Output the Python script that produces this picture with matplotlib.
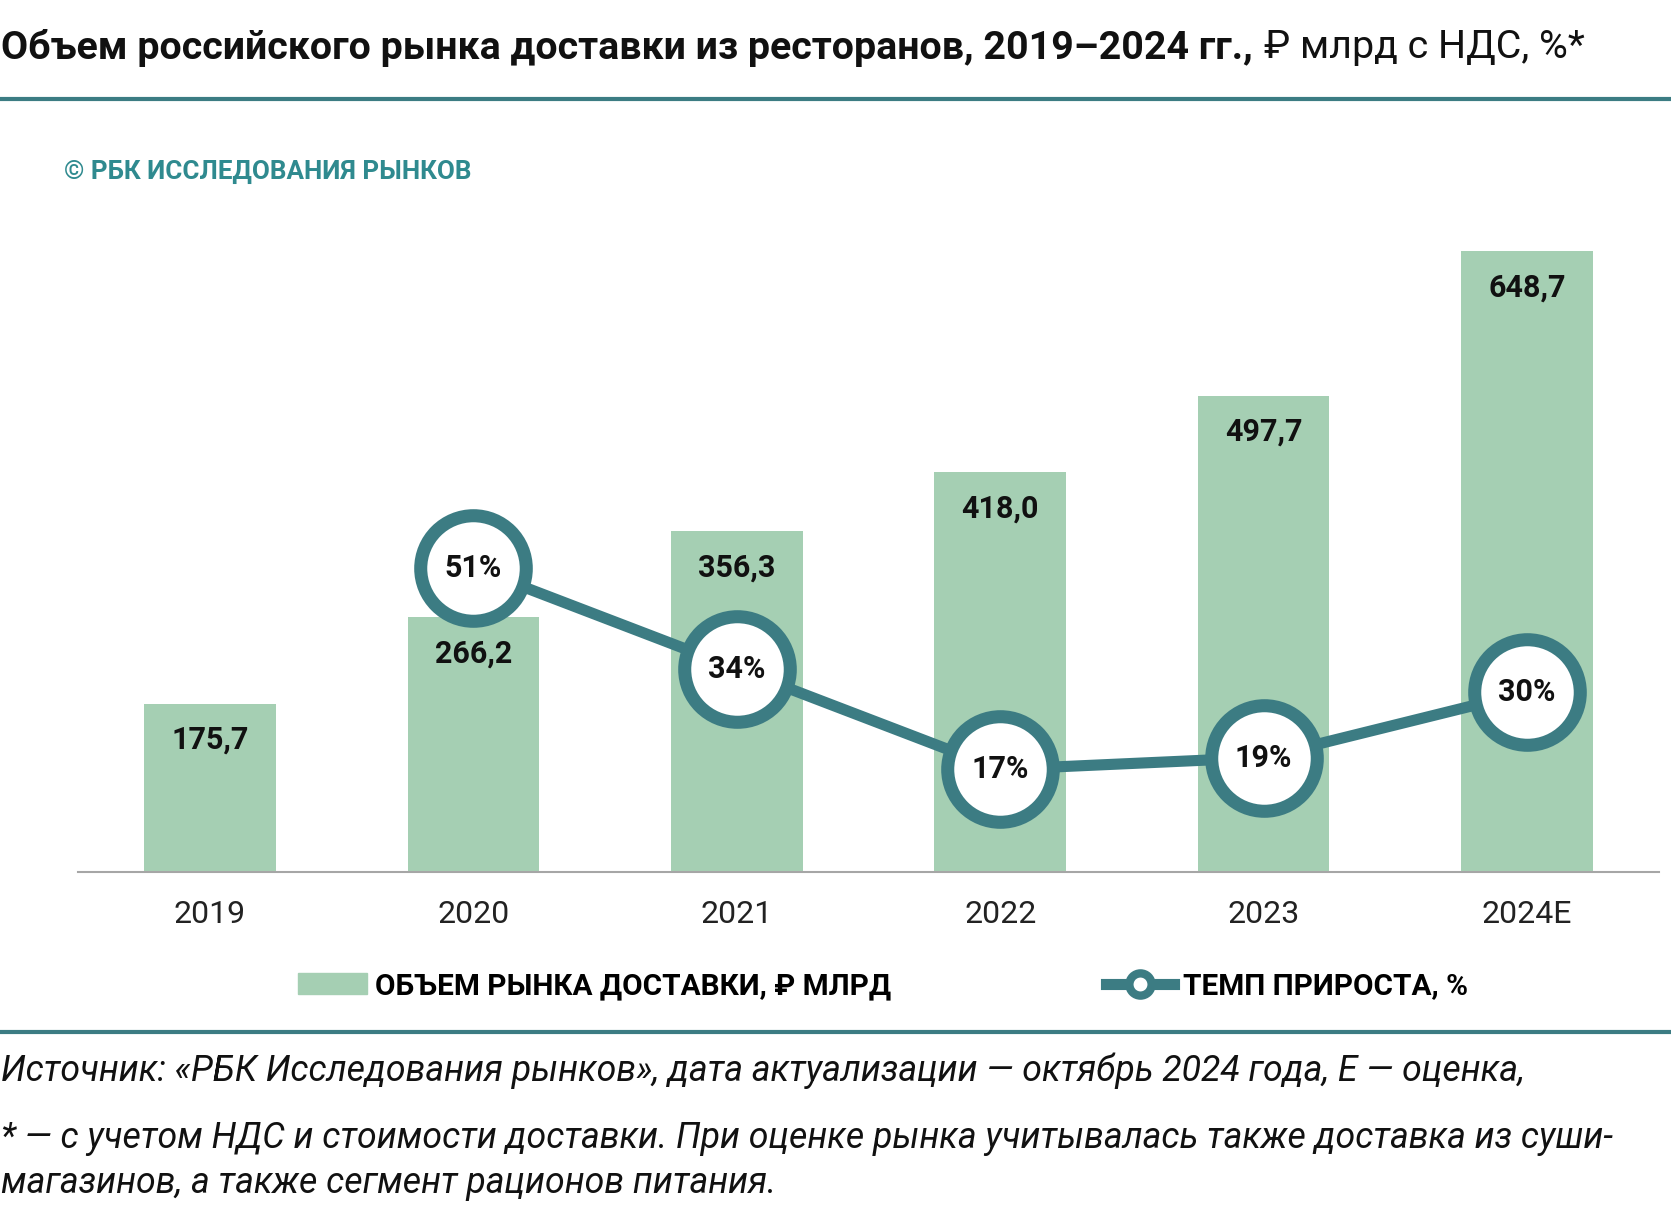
import matplotlib
matplotlib.use("Agg")
import matplotlib.pyplot as plt
from matplotlib.lines import Line2D
from matplotlib.patches import Patch

plt.rcParams['font.family'] = ['Roboto', 'DejaVu Sans']

years = ['2019', '2020', '2021', '2022', '2023', '2024E']
market = [175.7, 266.2, 356.3, 418.0, 497.7, 648.7]
growth_years = [1, 2, 3, 4, 5]
growth = [51, 34, 17, 19, 30]

title_bold = 'Объем российского рынка доставки из ресторанов, 2019–2024 гг.,'
title_reg = '₽ млрд с НДС, %*'
watermark = '© РБК ИССЛЕДОВАНИЯ РЫНКОВ'
legend_labels = ['ОБЪЕМ РЫНКА ДОСТАВКИ, ₽ МЛРД', 'ТЕМП ПРИРОСТА, %']
footer = ['Источник: «РБК Исследования рынков», дата актуализации — октябрь 2024 года, Е — оценка,',
          '* — с учетом НДС и стоимости доставки. При оценке рынка учитывалась также доставка из суши-',
          'магазинов, а также сегмент рационов питания.']

bar_color = '#A5CFB3'
teal = '#3C7C83'
W, H = 1671, 1212

fig = plt.figure(figsize=(W / 100, H / 100), dpi=100)
fig.patch.set_facecolor('white')
renderer = fig.canvas.get_renderer()


def fit(t, target_px):
    bb = t.get_window_extent(renderer)
    t.set_fontsize(t.get_fontsize() * target_px / bb.width)


# title
t1 = fig.text(1 / W, 1 - 48 / H, title_bold, fontsize=26, fontweight='bold',
              va='center', ha='left', color='#111111')
fit(t1, 1254)
bb = t1.get_window_extent(renderer)
fig.text((bb.x1 + 11) / W, 1 - 48 / H, title_reg, fontsize=t1.get_fontsize(),
         va='center', ha='left', color='#111111')

for y in [99, 1032]:
    fig.add_artist(Line2D([0, 1], [1 - y / H, 1 - y / H], transform=fig.transFigure,
                          color=teal, lw=3))

fig.text(64 / W, 1 - 172 / H, watermark, fontsize=18.7, fontweight='bold',
         color='#2F8A8F', va='center', ha='left')

# chart
ax = fig.add_axes([78.3 / W, 1 - 872 / H, 6 * 263.4 / W, 672 / H])
x = list(range(len(years)))
ax.bar(x, market, width=0.5, color=bar_color, zorder=2)
ax.set_xlim(-0.5, 5.5)
ax.set_ylim(0, 702.5)
for s in ['top', 'left', 'right']:
    ax.spines[s].set_visible(False)
ax.spines['bottom'].set_color('#A6A6A6')
ax.spines['bottom'].set_linewidth(1.5)
ax.set_yticks([])
ax.set_xticks(x, years)
ax.tick_params(axis='x', length=0, pad=20, labelsize=23, labelcolor='#222222')

for i, v in enumerate(market):
    ax.annotate(f'{v:.1f}'.replace('.', ','), xy=(i, v), xytext=(0, -26),
                textcoords='offset points', ha='center', va='center',
                fontsize=22, fontweight='bold', color='#111111')

ax2 = ax.twinx()
ax2.set_ylim(-0.3, 113.0)
ax2.axis('off')
ax2.plot(growth_years, growth, '-o', color=teal, lw=8, ms=76, mfc='white',
         mec=teal, mew=9.4, zorder=3)
for i, v in zip(growth_years, growth):
    ax2.text(i, v, f'{v}%', ha='center', va='center', fontsize=22,
             fontweight='bold', color='#111111', zorder=4)

handles = [Patch(color=bar_color),
           Line2D([], [], color=teal, lw=8, marker='o', ms=16, mfc='white',
                  mec=teal, mew=6)]
fig.legend(handles, legend_labels, loc='center', bbox_to_anchor=(883 / W, 1 - 986 / H),
           ncol=2, frameon=False, prop={'weight': 'bold', 'size': 21.4},
           handlelength=2.3, handletextpad=0.3, columnspacing=7.2)

# footer
f = fig.text(1 / W, 1 - 1138 / H, footer[1], fontsize=22, style='italic',
             va='center', ha='left', color='#111111')
fit(f, 1608)
fs = f.get_fontsize()
fig.text(1 / W, 1 - 1071 / H, footer[0], fontsize=fs, style='italic',
         va='center', ha='left', color='#111111')
fig.text(1 / W, 1 - 1183 / H, footer[2], fontsize=fs, style='italic',
         va='center', ha='left', color='#111111')

fig.savefig('out.png', dpi=100)
